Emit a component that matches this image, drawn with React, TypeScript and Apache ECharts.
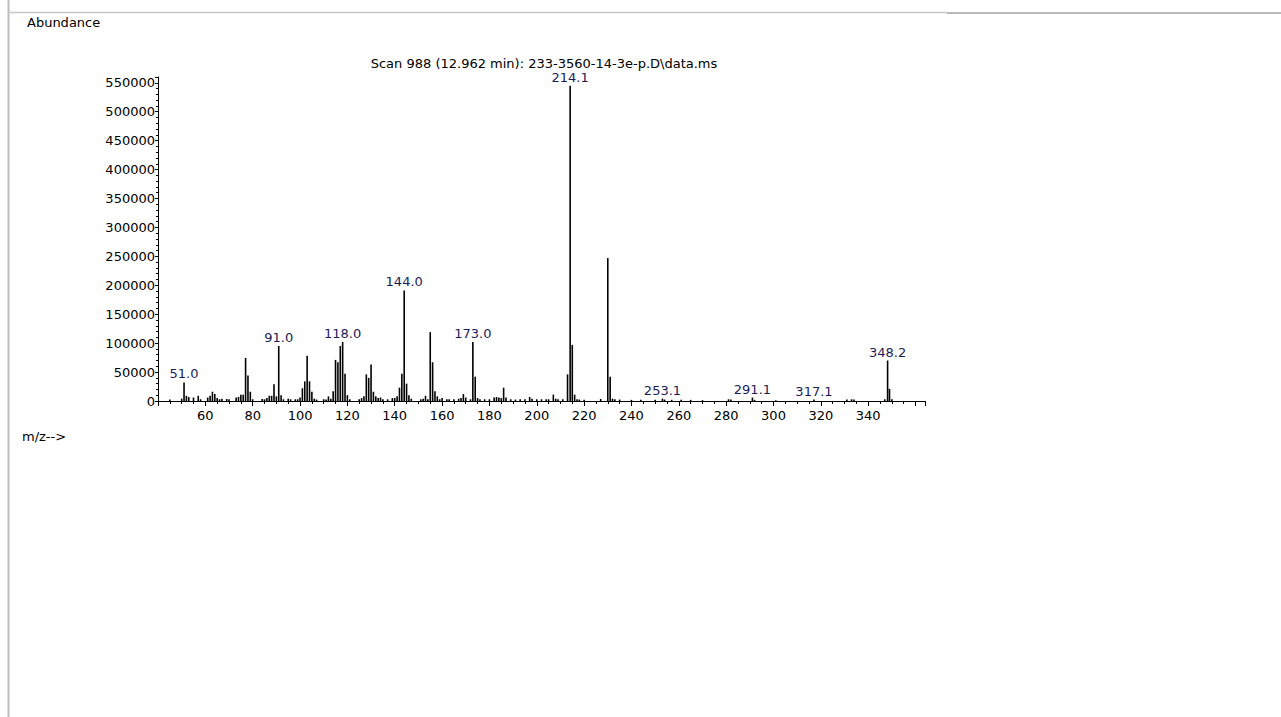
import React, { useEffect, useRef } from "react";
import * as echarts from "echarts";

// m/z positions of the spectrum lines
const mzValues = [
  45, 50, 51.0, 52, 53, 55, 57, 58, 61, 62, 63, 64, 65, 66, 67, 69, 70, 73, 74, 75, 76, 77, 78, 79, 80,
  84, 85, 86, 87, 88, 89, 90, 91.0, 92, 93, 95, 96, 98, 99, 100, 101, 102, 103, 104, 105, 106, 107,
  110, 111, 112, 113, 114, 115, 116, 117, 118.0, 119, 120, 121, 125, 126, 127, 128, 129, 130, 131, 132,
  133, 134, 135, 137, 139, 140, 141, 142, 143, 144.0, 145, 146, 147, 151, 152, 153, 154, 155, 156, 157,
  158, 159, 160, 162, 163, 165, 167, 168, 169, 170, 172, 173.0, 174, 175, 176, 178, 180, 182, 183, 184,
  185, 186, 187, 189, 191, 193, 195, 197, 198, 200, 202, 204, 205, 207, 208, 209, 211, 213, 214.1, 215,
  216, 217, 218, 220, 227, 230, 231, 232, 233, 235, 240, 244, 250, 253.1, 254, 257, 261, 265, 270, 281,
  282, 291.1, 292, 301, 317.1, 331, 333, 334, 347, 348.2, 349, 350,
];

// abundance of each line
const abundances = [
  2500, 4000, 32000, 9000, 7000, 6000, 9000, 3000, 6000, 9000, 16000, 12000, 5000, 3000, 4000, 3500, 3000, 6000, 7000, 11000, 11000, 74500, 44000, 16000, 3000,
  3500, 3000, 5000, 9000, 9000, 29000, 8000, 95000, 10000, 3000, 4000, 3000, 3000, 3000, 6000, 22000, 34000, 78000, 34000, 16000, 4000, 2500,
  3000, 2500, 8000, 4000, 17000, 71000, 67000, 95000, 102000, 47000, 10000, 3000, 3000, 5000, 8000, 46000, 40000, 63000, 16000, 8000,
  5000, 6000, 3000, 3000, 5000, 5000, 8000, 23000, 47000, 191000, 30000, 10000, 4000, 3000, 4000, 9000, 3000, 119000, 67000, 17000,
  8000, 3000, 5000, 3000, 3000, 3000, 4000, 5000, 12000, 6000, 3000, 102000, 42000, 5000, 3000, 3000, 3000, 6000, 7000, 6000,
  5000, 23000, 6000, 3000, 2500, 3000, 3000, 7000, 4000, 3000, 3000, 3000, 3000, 11000, 4000, 3000, 3000, 46000, 545000, 97000,
  11000, 3000, 2500, 2000, 3500, 247000, 42000, 4000, 3000, 2500, 2000, 2000, 2000, 4000, 2500, 2000, 2000, 2000, 1500, 3000,
  2500, 6000, 2000, 1500, 2500, 2500, 3000, 2500, 3000, 70000, 21000, 3000,
];

// peaks annotated with their m/z
const labeledPeaks = [51.0, 91.0, 118.0, 144.0, 173.0, 214.1, 253.1, 291.1, 317.1, 348.2];

const titleText = "Scan 988 (12.962 min): 233-3560-14-3e-p.D\\data.ms";
const yAxisName = "Abundance";
const xAxisName = "m/z-->";

const FONT = "DejaVu Sans";

export default function App() {
  const ref = useRef<HTMLDivElement>(null);

  useEffect(() => {
    if (!ref.current) return;
    const chart = echarts.init(ref.current, undefined, { renderer: "svg" });

    const data = mzValues.map((mz, i) => {
      if (labeledPeaks.includes(mz)) {
        return {
          value: [mz, abundances[i]],
          label: {
            show: true,
            position: "top",
            distance: 2,
            formatter: mz.toFixed(1),
            color: "#1c1c5a",
            fontSize: 13,
            fontFamily: FONT,
          },
        };
      }
      return { value: [mz, abundances[i]] };
    });

    chart.setOption({
      animation: false,
      backgroundColor: "#ffffff",
      grid: { left: 158, top: 77, right: 356, bottom: 316, containLabel: false },
      xAxis: {
        type: "value",
        min: 40,
        max: 364,
        interval: 20,
        axisLine: { show: true, lineStyle: { color: "#000", width: 1 } },
        axisTick: { show: true, length: 5, lineStyle: { color: "#000" } },
        minorTick: { show: true, splitNumber: 4, length: 3, lineStyle: { color: "#000" } },
        splitLine: { show: false },
        axisLabel: {
          color: "#000",
          fontSize: 13,
          fontFamily: FONT,
          margin: 8,
          formatter: (v: number) => (v === 40 || v >= 360 ? "" : String(v)),
        },
      },
      yAxis: {
        type: "value",
        min: 0,
        max: 560000,
        interval: 50000,
        axisLine: { show: true, lineStyle: { color: "#000", width: 1 } },
        axisTick: { show: true, length: 3, lineStyle: { color: "#000" } },
        minorTick: { show: true, splitNumber: 5, length: 2, lineStyle: { color: "#000" } },
        splitLine: { show: false },
        axisLabel: {
          color: "#000",
          fontSize: 13,
          fontFamily: FONT,
          margin: 3,
          formatter: (v: number) => (v % 50000 === 0 ? String(v) : ""),
        },
      },
      series: [
        {
          type: "bar",
          data,
          barWidth: 1.6,
          itemStyle: { color: "#000" },
          silent: true,
        },
      ],
      graphic: [
        {
          type: "line",
          shape: { x1: 8.5, y1: 0, x2: 8.5, y2: 717 },
          style: { stroke: "#bdbdbd", lineWidth: 2 },
        },
        {
          type: "line",
          shape: { x1: 8, y1: 12.5, x2: 947, y2: 12.5 },
          style: { stroke: "#c8c8c8", lineWidth: 1.5 },
        },
        {
          type: "line",
          shape: { x1: 947, y1: 13, x2: 1281, y2: 13 },
          style: { stroke: "#bababa", lineWidth: 2 },
        },
        {
          type: "text",
          x: 27,
          y: 22,
          style: { text: yAxisName, fill: "#000", font: `13px "${FONT}"`, textVerticalAlign: "middle" },
        },
        {
          type: "text",
          x: 22,
          y: 436,
          style: { text: xAxisName, fill: "#000", font: `13px "${FONT}"`, textVerticalAlign: "middle" },
        },
        {
          type: "text",
          x: 544,
          y: 63,
          style: {
            text: titleText,
            fill: "#000",
            font: `13px "${FONT}"`,
            textAlign: "center",
            textVerticalAlign: "middle",
          },
        },
      ],
    });

    return () => chart.dispose();
  }, []);

  return (
    <div
      ref={ref}
      style={{ position: "fixed", left: 0, top: 0, width: 1281, height: 717, background: "#fff" }}
    />
  );
}
